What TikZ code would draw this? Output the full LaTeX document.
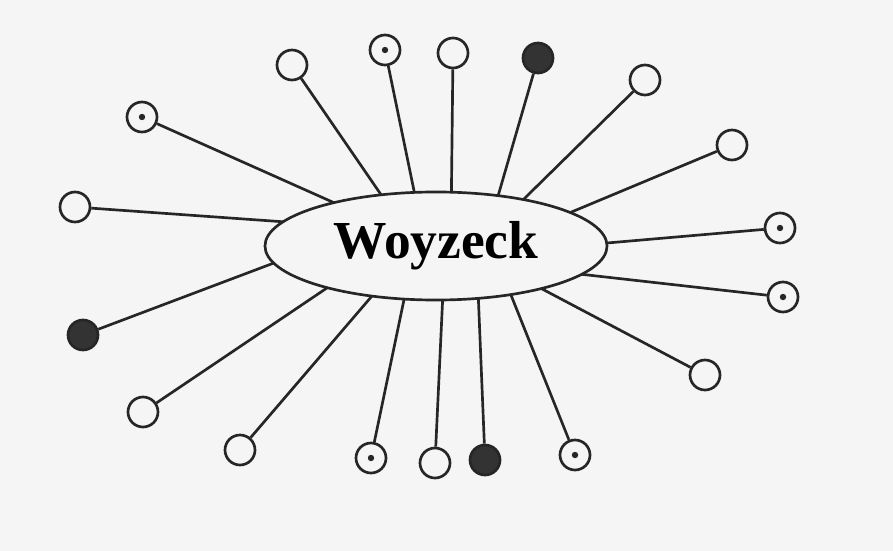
\documentclass[tikz,border=0pt]{standalone}
\usepackage{fontspec}
\setmainfont{Liberation Serif}
\usepackage{tikz}
\usetikzlibrary{shapes.geometric}

\begin{document}
\begin{tikzpicture}[
  x=0.025cm, y=-0.025cm,
  hub/.style={draw=black!85, line width=1.9pt, ellipse, inner sep=0pt, outer sep=0pt, minimum width=8.55cm, minimum height=2.7cm, font=\fontsize{38}{40}\selectfont\bfseries},
  ring/.style={draw=black!85, line width=1.9pt, circle, inner sep=0pt, minimum size=0.75cm},
  dotring/.style={ring, path picture={\fill[black!85] (path picture bounding box.center) circle (0.08cm);}},
  fullring/.style={ring, fill=black!80},
  spoke/.style={draw=black!85, line width=1.9pt}
]
\fill[white!96!black] (0,0) rectangle (893,551);
\useasboundingbox (0,0) rectangle (893,551);

\node[hub] (w) at (436,246) {Woyzeck};

\node[ring]     (c1)  at (292,65)  {};
\node[dotring]  (c2)  at (385,50)  {};
\node[ring]     (c3)  at (453,53)  {};
\node[fullring] (c4)  at (538,58)  {};
\node[ring]     (c5)  at (645,80)  {};
\node[ring]     (c6)  at (732,145) {};
\node[dotring]  (c7)  at (780,228) {};
\node[dotring]  (c8)  at (783,297) {};
\node[ring]     (c9)  at (705,375) {};
\node[dotring]  (c10) at (575,455) {};
\node[fullring] (c11) at (485,460) {};
\node[ring]     (c12) at (435,463) {};
\node[dotring]  (c13) at (371,458) {};
\node[ring]     (c14) at (240,450) {};
\node[ring]     (c15) at (143,412) {};
\node[fullring] (c16) at (83,335)  {};
\node[ring]     (c17) at (75,207)  {};
\node[dotring]  (c18) at (142,117) {};

\draw[spoke] (w.137.5) -- (c1);
\draw[spoke] (w.112.5) -- (c2);
\draw[spoke] (w.74)    -- (c3);
\draw[spoke] (w.39.3)  -- (c4);
\draw[spoke] (w.28.6)  -- (c5);
\draw[spoke] (w.14.7)  -- (c6);
\draw[spoke] (w.1.3)   -- (c7);
\draw[spoke] (w.-11.9) -- (c8);
\draw[spoke] (w.-22.4) -- (c9);
\draw[spoke] (w.-33.5) -- (c10);
\draw[spoke] (w.-51.8) -- (c11);
\draw[spoke] (w.-83)   -- (c12);
\draw[spoke] (w.-121.6) -- (c13);
\draw[spoke] (w.-142.7) -- (c14);
\draw[spoke] (w.-159.2) -- (c15);
\draw[spoke] (w.-174.6) -- (c16);
\draw[spoke] (w.171.8) -- (c17);
\draw[spoke] (w.157.5) -- (c18);
\end{tikzpicture}
\end{document}
